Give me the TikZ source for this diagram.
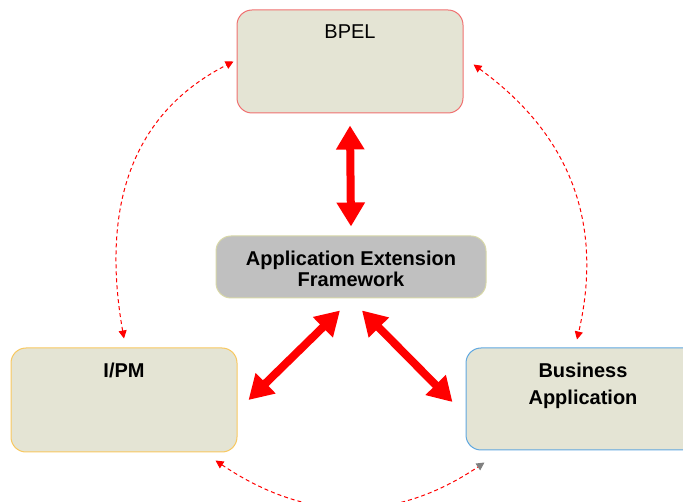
\documentclass[tikz,border=0pt]{standalone}
\usepackage{fontspec}
\setmainfont{Liberation Sans}
\usetikzlibrary{arrows.meta,positioning}
\definecolor{panel}{HTML}{E4E4D4}
\definecolor{hubfill}{HTML}{C0C0C0}
\definecolor{hubline}{HTML}{D8D8A8}
\definecolor{bpelline}{HTML}{F07070}
\definecolor{ipmline}{HTML}{F8C860}
\definecolor{bizline}{HTML}{60A8E0}
\begin{document}
\begin{tikzpicture}[x=1pt,y=1pt,
    box/.style={draw, fill=panel, rounded corners=15pt, line width=1pt},
    lbl/.style={inner sep=0pt, align=center, font=\fontsize{20}{22}\selectfont\bfseries},
    bigarrow/.style={red, line width=8pt, {Triangle[width=27pt,length=24pt]}-{Triangle[width=27pt,length=24pt]}},
    linkarrow/.style={red, line width=1pt, dash pattern=on 4pt off 3pt}]
  \useasboundingbox (0,0) rectangle (683,501);
  % the four boxes
  \node[box, draw=bpelline, minimum width=226pt, minimum height=103pt] (bpel) at (350,439.5) {};
  \node[box, draw=hubline, fill=hubfill, minimum width=270pt, minimum height=62pt] (aef) at (351,234) {};
  \node[box, draw=ipmline, minimum width=226pt, minimum height=104pt] (ipm) at (124,101) {};
  \node[box, draw=bizline, minimum width=234pt, minimum height=102pt] (bizapp) at (583,102) {};
  \node[lbl, font=\fontsize{20}{22}\selectfont, below=15pt of bpel.north] (bpeltext) {BPEL};
  \node[lbl, font=\fontsize{20}{21}\selectfont\bfseries, below=15pt of aef.north] (aeftext) {Application Extension\\Framework};
  \node[lbl, below=15pt of ipm.north] (ipmtext) {I/PM};
  \node[lbl, font=\fontsize{20}{27}\selectfont\bfseries, below=15pt of bizapp.north] (biztext) {Business\\Application};
  % thick links to the framework
  \draw[bigarrow] ([yshift=-12pt]bpel.south) -- ([yshift=9pt]aef.north);
  \draw[bigarrow] ([shift={(-11pt,-12pt)}]aef.south) -- ([xshift=11pt]ipm.east);
  \draw[bigarrow] ([shift={(11pt,-12pt)}]aef.south) -- ([shift={(-13pt,-3pt)}]bizapp.west);
  % dashed links round the outside
  \draw[linkarrow, {Triangle[width=8pt,length=8pt]}-{Triangle[width=8pt,length=8pt]}]
    ([yshift=9pt]ipm.north) to[out=100, in=207, looseness=1.05] ([xshift=-3pt]bpel.west);
  \draw[linkarrow, {Triangle[width=8pt,length=8pt]}-{Triangle[width=8pt,length=8pt]}]
    ([shift={(10pt,-3pt)}]bpel.east) to[out=-36, in=77, looseness=1.04] ([shift={(-6pt,8pt)}]bizapp.north);
  \draw[linkarrow, {Triangle[width=8pt,length=8pt]}-{Triangle[width=8pt,length=8pt,color=gray]}]
    ([shift={(-22pt,-8pt)}]ipm.south east) to[out=-34, in=214, looseness=1.04] ([shift={(19pt,-12pt)}]bizapp.south west);
\end{tikzpicture}
\end{document}
